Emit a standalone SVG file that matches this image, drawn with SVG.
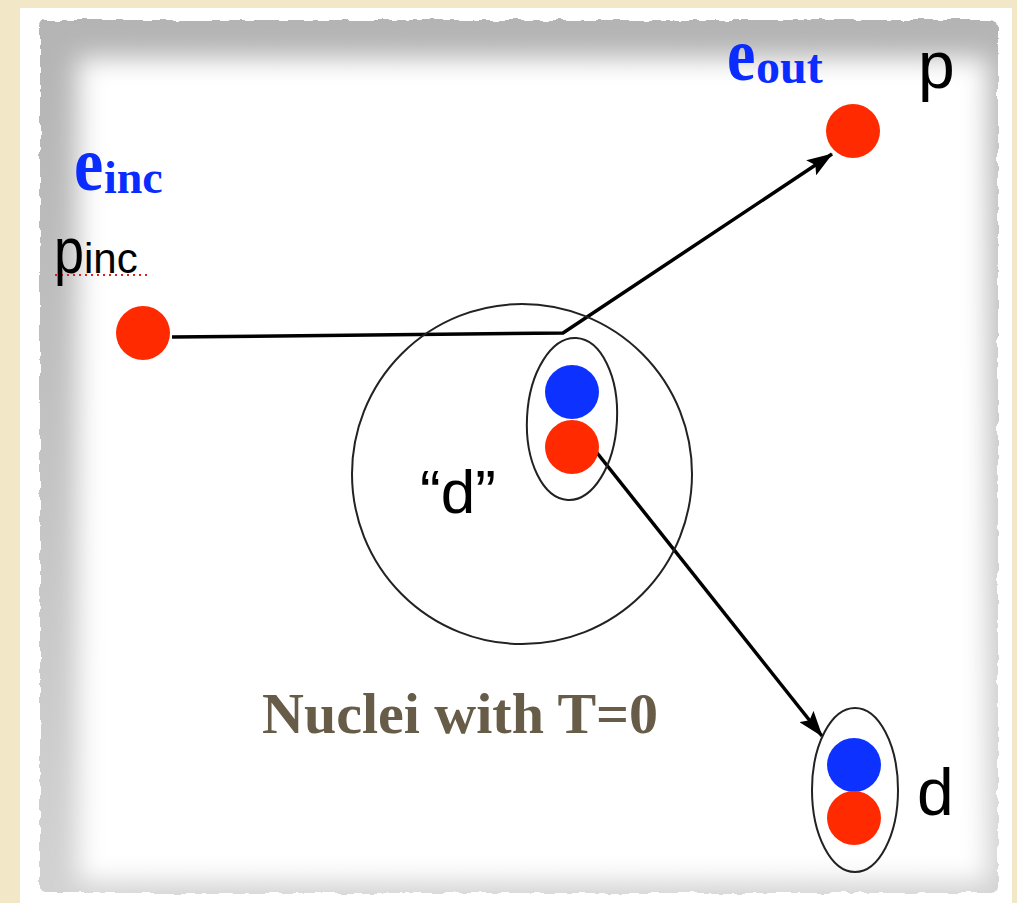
<svg xmlns="http://www.w3.org/2000/svg" width="1017" height="903" viewBox="0 0 1017 903">
  <defs>
    <filter id="torn" x="-5%" y="-5%" width="110%" height="110%">
      <feTurbulence type="fractalNoise" baseFrequency="0.08" numOctaves="2" seed="3" result="n"/>
      <feDisplacementMap in="SourceGraphic" in2="n" scale="6" xChannelSelector="R" yChannelSelector="G"/>
    </filter>
    <filter id="soft" x="-10%" y="-10%" width="120%" height="120%">
      <feGaussianBlur stdDeviation="13"/>
    </filter>
    <filter id="ball" x="-20%" y="-20%" width="140%" height="140%">
      <feGaussianBlur stdDeviation="0.5"/>
    </filter>
    <marker id="arrow" viewBox="0 0 26 18" refX="25" refY="9" markerWidth="26" markerHeight="18" markerUnits="userSpaceOnUse" orient="auto">
      <path d="M0,0 L26,9 L0,18 L5,9 Z" fill="#000"/>
    </marker>
    <linearGradient id="topShade" x1="0" y1="0" x2="0" y2="1">
      <stop offset="0" stop-color="#b4b4b4"/>
      <stop offset="1" stop-color="#d2d2d2"/>
    </linearGradient>
  </defs>
  <style>
    .proton { fill: #ff2a00; }
    .neutron { fill: #0a33ff; }
    .outline { fill: none; stroke: #222; stroke-width: 2; }
    .track { fill: none; stroke: #000; stroke-width: 3.5; }
    .sans { font-family: "Liberation Sans", Arial, sans-serif; fill: #000; }
    .eblue { font-family: "Liberation Serif", "Times New Roman", serif; font-weight: bold; fill: #0a2cff; }
    .caption { font-family: "Liberation Serif", "Times New Roman", serif; font-weight: bold; fill: #675c48; }
  </style>

  <!-- background -->
  <rect x="0" y="0" width="1017" height="903" fill="#f2e8c8"/>
  <rect x="20" y="8" width="992" height="895" fill="#ffffff"/>
  <g id="paper">
    <rect x="40" y="20" width="958" height="873" rx="6" fill="url(#topShade)" filter="url(#torn)"/>
    <rect x="78" y="58" width="910" height="824" fill="#ffffff" filter="url(#soft)"/>
  </g>

  <!-- connectors -->
  <g id="connectors">
    <polyline class="track" points="172,337 563,333 832,154" marker-end="url(#arrow)"/>
    <line class="track" x1="590" y1="444" x2="822" y2="736" marker-end="url(#arrow)"/>
    <line x1="55" y1="275" x2="148" y2="275" stroke="#e02020" stroke-width="2" stroke-dasharray="2 4"/>
  </g>

  <g id="nucleus">
    <circle class="outline" cx="522" cy="474" r="170"/>
    <text class="sans" x="420" y="513" font-size="62">“d”</text>
  </g>

  <g id="bound-deuteron">
    <ellipse class="outline" cx="572" cy="419" rx="45" ry="81" transform="rotate(3 572 419)"/>
    <circle class="neutron" cx="572" cy="392" r="27" filter="url(#ball)"/>
    <circle class="proton" cx="572" cy="447" r="27" filter="url(#ball)"/>
  </g>

  <g id="p-inc">
    <circle class="proton" cx="143" cy="333" r="27" filter="url(#ball)"/>
    <text class="sans" transform="translate(54 273) scale(1 1.2)" x="0" y="0" font-size="54">p</text>
    <text class="sans" x="84" y="273" font-size="42">inc</text>
  </g>

  <g id="e-inc">
    <text class="eblue" transform="translate(74 190) scale(1 1.2)" x="0" y="0" font-size="66">e</text>
    <text class="eblue" x="104" y="193" font-size="46">inc</text>
  </g>

  <g id="p-out">
    <circle class="proton" cx="853" cy="131" r="27" filter="url(#ball)"/>
    <text class="sans" x="918" y="88" font-size="66">p</text>
  </g>

  <g id="e-out">
    <text class="eblue" transform="translate(727 80) scale(1 1.2)" x="0" y="0" font-size="64">e</text>
    <text class="eblue" x="756" y="83" font-size="48">out</text>
  </g>

  <g id="d-out">
    <ellipse class="outline" cx="855" cy="790" rx="43" ry="82"/>
    <circle class="neutron" cx="854" cy="765" r="27" filter="url(#ball)"/>
    <circle class="proton" cx="854" cy="818" r="27" filter="url(#ball)"/>
    <text class="sans" x="917" y="815" font-size="66">d</text>
  </g>

  <g id="caption">
    <text class="caption" x="262" y="733" font-size="58">Nuclei with T=0</text>
  </g>
</svg>
